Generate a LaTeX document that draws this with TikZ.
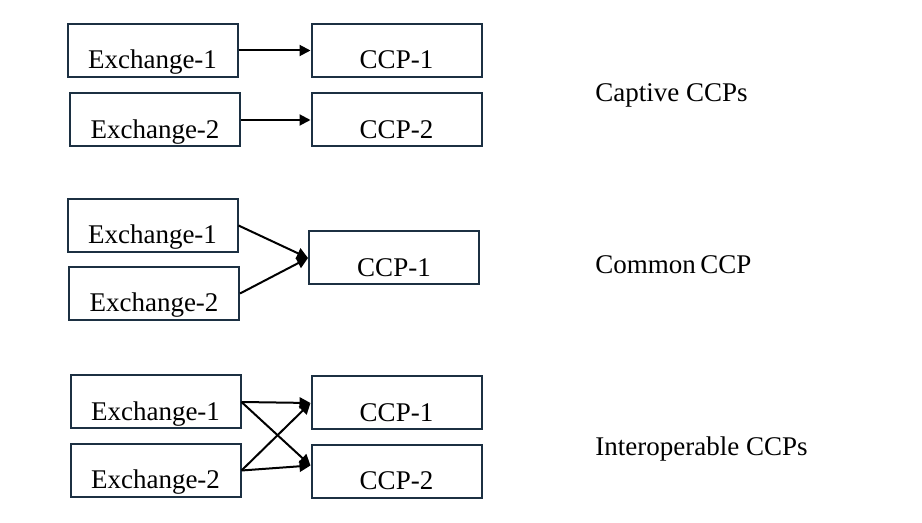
\documentclass[tikz,border=0pt]{standalone}
\usepackage{fontspec}
\setmainfont{Liberation Serif}
\usepackage{tikz}
\usetikzlibrary{arrows.meta,positioning}
\definecolor{boxblue}{RGB}{28,48,66}

\begin{document}
\begin{tikzpicture}[x=0.5pt,y=-0.5pt,
        box/.style={draw=boxblue,line width=1pt,minimum width=85pt,inner ysep=0pt,
            text height=22.5pt,text depth=4pt,font=\fontsize{13.5}{16}\selectfont},
        link/.style={-{Triangle[length=5.5pt,width=5.5pt]},line width=1pt},
        kind/.style={anchor=base west,inner xsep=0pt,font=\fontsize{13.5}{16}\selectfont}]
            \useasboundingbox (0,0) rectangle (922,523);
            %Captive
            \node[box] (ex11) at (152.5,50.5) {Exchange-1};
            \node[box] (ex12) at (155,120) {Exchange-2};
            \node[box] (ccp11) at (396.5,50.5) {CCP-1};
            \node[box] (ccp12) at (396.5,120) {CCP-2};
            \node[kind] (captive) at (595,102) {Captive CCPs};
            \draw[link] (ex11.east) -- (ccp11.west);
            \draw[link] (ex12.east) -- (ccp12.west);
            %Common
            \node[box] (ex21) at (152.5,225.5) {Exchange-1};
            \node[box] (ex22) at (154,293.5) {Exchange-2};
            \node[box] (ccp21) at (394,258) {CCP-1};
            \node[kind] (common) at (595,274) {Common\,CCP};
            \draw[link] (ex21.east) -- (ccp21.west);
            \draw[link] (ex22.east) -- (ccp21.west);
            %Interoperable
            \node[box] (ex31) at (155.5,402) {Exchange-1};
            \node[box] (ex32) at (155.5,470.5) {Exchange-2};
            \node[box] (ccp31) at (396.5,403) {CCP-1};
            \node[box] (ccp32) at (396.5,471.5) {CCP-2};
            \node[kind] (interop) at (595,456) {Interoperable CCPs};
            \draw[link] (ex31.east) -- (ccp31.west);
            \draw[link] (ex31.east) -- ([yshift=3pt]ccp32.west);
            \draw[link] (ex32.east) -- ([yshift=3pt]ccp32.west);
            \draw[link] (ex32.east) -- (ccp31.west);
        \end{tikzpicture}
\end{document}
